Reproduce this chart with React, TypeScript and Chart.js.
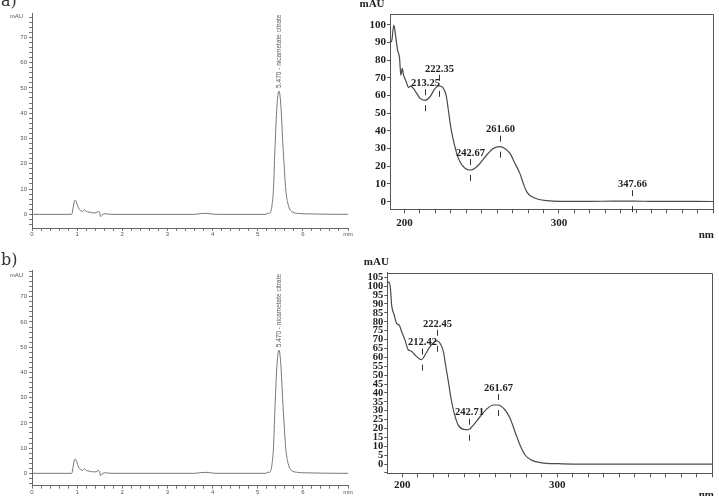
import React, { useEffect, useRef } from "react";
import { Chart, registerables } from "chart.js";
Chart.register(...registerables);

// ---------- data ----------
const chromTimesA = [0, 0.88, 0.91, 0.94, 0.96, 0.99, 1.03, 1.08, 1.12, 1.16, 1.2, 1.26, 1.34, 1.42, 1.46, 1.49, 1.52, 1.55, 1.6, 1.65, 1.75, 3.6, 3.75, 3.85, 3.95, 4.1, 5.18, 5.23, 5.26, 5.29, 5.32, 5.35, 5.38, 5.42, 5.45, 5.47, 5.49, 5.52, 5.55, 5.58, 5.62, 5.66, 5.71, 5.78, 5.88, 6.05, 7.0];
const chromSignalA = [0, 0, 2.5, 5.3, 5.6, 4.5, 2.5, 1.4, 1.2, 1.8, 1.2, 0.9, 0.6, 0.6, 1.1, 1.0, -0.9, -0.3, 0.2, 0.2, 0, 0, 0.3, 0.4, 0.2, 0, 0, 0.5, 0.3, 1.2, 4, 10.5, 25, 41, 47.5, 48.8, 47.5, 41, 30, 21, 10, 5, 2, 0.8, 0.4, 0.2, 0];
const chromTimesB = [0, 0.88, 0.91, 0.94, 0.96, 0.99, 1.03, 1.08, 1.12, 1.16, 1.2, 1.26, 1.34, 1.42, 1.46, 1.49, 1.52, 1.55, 1.6, 1.65, 1.75, 3.6, 3.75, 3.85, 3.95, 4.1, 5.18, 5.23, 5.26, 5.29, 5.32, 5.35, 5.38, 5.42, 5.45, 5.47, 5.49, 5.52, 5.55, 5.58, 5.62, 5.66, 5.71, 5.78, 5.88, 6.05, 7.0];
const chromSignalB = [0, 0, 2.5, 5.4, 5.7, 4.6, 2.5, 1.4, 1.2, 1.8, 1.2, 0.9, 0.6, 0.6, 1.1, 1.0, -0.9, -0.3, 0.2, 0.2, 0, 0, 0.3, 0.4, 0.2, 0, 0, 0.5, 0.3, 1.2, 4, 10.5, 25, 41, 47.5, 48.8, 47.5, 41, 30, 21, 10, 5, 2, 0.8, 0.4, 0.2, 0];
const chromPeakTime = 5.47;
const chromPeakLabel = "5.470 - nicametate citrate";
const chromUnitLabel = "mAU";

const waveA = [190.7, 191.8, 193.1, 194.2, 195.5, 196.8, 197.6, 198.5, 199.4, 201.1, 202.6, 204.1, 205.8, 207.9, 210.1, 213.3, 216.5, 219.8, 222.3, 224.7, 226.9, 228.4, 229.9, 231.6, 233.8, 235.9, 239.2, 242.6, 245.6, 248.9, 253.2, 257.5, 261.6, 265.0, 268.3, 271.5, 274.7, 276.9, 279.1, 282.3, 286.6, 292.0, 300.6, 320, 335, 347.7, 360, 400];
const absA = [89.8, 91.3, 99.8, 94, 85.7, 81, 71.5, 75.3, 71.5, 67.8, 64.6, 65.3, 64, 61.2, 58.4, 57.3, 59.3, 64, 65.5, 64.6, 60.3, 51.8, 42.4, 34.9, 27.3, 22.6, 18.9, 17.9, 18.9, 21.7, 26.4, 30.1, 31.1, 30.1, 27.3, 21.7, 16, 10.4, 5.7, 2.9, 1.4, 0.6, 0.2, 0.2, 0.3, 0.3, 0.2, 0.1];
const peaksA = [213.25, 222.35, 242.67, 261.6, 347.66];

const waveB = [189.9, 191.4, 192.3, 193.1, 194.8, 196.3, 197.9, 199.6, 201.7, 203.9, 205.6, 208.2, 211.4, 212.4, 214.6, 217.9, 221.5, 222.5, 224.3, 226.5, 227.9, 229.7, 231.4, 233.5, 236.1, 239.4, 242.7, 245.8, 250.1, 254.4, 258.7, 261.7, 266.3, 269.5, 272.7, 275.9, 279.2, 283.4, 289.9, 300.6, 310, 400];
const absB = [100.7, 102.5, 98.8, 89.4, 83.8, 79.1, 78.2, 74.4, 69.7, 64.1, 63.6, 61.3, 58.9, 58.7, 61.3, 66, 69.2, 69.3, 67.9, 63.2, 55.7, 46.3, 37, 28.5, 21.9, 19.5, 19.3, 21.9, 26.6, 30.9, 33.2, 33.2, 30.4, 25.7, 18.2, 10.7, 5.1, 2.2, 0.7, 0.2, 0, 0];
const peaksB = [212.42, 222.45, 242.71, 261.67];

const specXLabels = [200, 300];
const specUnitY = "mAU";
const specUnitX = "nm";

// ---------- helpers ----------
const SANS = '"Liberation Sans", Arial, sans-serif';
const SERIF = '"Liberation Serif", "Times New Roman", serif';

function interp(xs: number[], ys: number[], x: number) {
  for (let i = 0; i < xs.length - 1; i++) {
    if (x >= xs[i] && x <= xs[i + 1]) {
      const t = (x - xs[i]) / (xs[i + 1] - xs[i]);
      return ys[i] + t * (ys[i + 1] - ys[i]);
    }
  }
  return ys[ys.length - 1];
}

function chromConfig(times: number[], signal: number[], o: any) {
  const peakMax = Math.max(...signal);
  const annot = {
    id: "chromAnnot",
    afterDraw(chart: any) {
      const { ctx, scales, chartArea } = chart;
      const xs = scales.x, ys = scales.y;
      ctx.save();
      ctx.fillStyle = "#555";
      ctx.font = `6px ${SANS}`;
      ctx.textAlign = "right";
      ctx.textBaseline = "middle";
      ctx.fillText(chromUnitLabel, chartArea.left - 9, ys.getPixelForValue(78.4));
      const px = xs.getPixelForValue(chromPeakTime) + 0.5;
      const py = ys.getPixelForValue(peakMax) - 3;
      ctx.translate(px, py);
      ctx.rotate(-Math.PI / 2);
      ctx.textAlign = "left";
      ctx.font = `6.5px ${SANS}`;
      ctx.fillText(chromPeakLabel, 0, 0);
      ctx.restore();
    },
  };
  return {
    type: "line",
    data: {
      datasets: [
        {
          data: times.map((t, i) => ({ x: t, y: signal[i] })),
          borderColor: "#777",
          borderWidth: 1,
          pointRadius: 0,
          cubicInterpolationMode: "monotone",
          fill: false,
        },
      ],
    },
    options: {
      animation: false,
      responsive: false,
      devicePixelRatio: 1,
      layout: { padding: { left: 6, right: 12, top: o.padTop, bottom: 0 } },
      plugins: { legend: { display: false }, tooltip: { enabled: false } },
      scales: {
        x: {
          type: "linear",
          min: 0,
          max: 7,
          afterFit: (s: any) => { s.height = o.xHeight; },
          border: { display: true, color: "#666", width: 1 },
          grid: { display: true, drawOnChartArea: false, drawTicks: true, tickLength: 3, color: "#777" },
          ticks: {
            stepSize: 0.2,
            maxTicksLimit: 1000,
            autoSkip: false,
            maxRotation: 0,
            includeBounds: false,
            padding: 0,
            color: "#555",
            font: { family: SANS, size: 6 },
            callback: (v: number) => (Math.abs(v - Math.round(v)) < 1e-6 ? (Math.round(v) === 7 ? "min" : String(Math.round(v))) : ""),
          },
        },
        y: {
          type: "linear",
          min: o.yMin,
          max: o.yMax,
          afterFit: (s: any) => { s.width = 26; },
          border: { display: true, color: "#666", width: 1 },
          grid: { display: true, drawOnChartArea: false, drawTicks: true, tickLength: 3, color: "#777" },
          ticks: {
            stepSize: 2,
            maxTicksLimit: 1000,
            autoSkip: false,
            includeBounds: false,
            padding: 2,
            color: "#555",
            font: { family: SANS, size: 6 },
            callback: (v: number) => (v >= 0 && v <= 70 && Math.round(v) % 10 === 0 ? String(Math.round(v)) : ""),
          },
        },
      },
    },
    plugins: [annot],
  };
}

function specConfig(wave: number[], abs: number[], peaks: number[], o: any) {
  const annot = {
    id: "specAnnot",
    afterDraw(chart: any) {
      const { ctx, scales, chartArea } = chart;
      const xs = scales.x, ys = scales.y;
      ctx.save();
      // frame top & right
      ctx.strokeStyle = "#555";
      ctx.lineWidth = 1;
      ctx.beginPath();
      const l = Math.round(chartArea.left) + 0.5, r = Math.round(chartArea.right) + 0.5;
      const t = Math.round(chartArea.top) + 0.5, b = Math.round(chartArea.bottom) + 0.5;
      ctx.moveTo(l, t);
      ctx.lineTo(r, t);
      ctx.lineTo(r, b);
      ctx.stroke();
      // peak labels
      ctx.fillStyle = "#222";
      ctx.strokeStyle = "#333";
      ctx.font = `bold ${o.peakFont}px ${SERIF}`;
      ctx.textAlign = "center";
      ctx.textBaseline = "middle";
      peaks.forEach((w) => {
        const px = Math.round(xs.getPixelForValue(w)) + 0.5;
        const py = ys.getPixelForValue(interp(wave, abs, w));
        ctx.fillText(w.toFixed(2), px, py - 17);
        ctx.beginPath();
        ctx.moveTo(px, py - 11);
        ctx.lineTo(px, py - 5);
        ctx.moveTo(px, py + 5);
        ctx.lineTo(px, py + 11);
        ctx.stroke();
      });
      // units
      ctx.font = `bold 11px ${SERIF}`;
      ctx.fillText(specUnitY, chartArea.left + o.unitY[0], chartArea.top + o.unitY[1]);
      ctx.fillText(specUnitX, chartArea.right + o.unitX[0], chartArea.bottom + o.unitX[1]);
      ctx.restore();
    },
  };
  return {
    type: "line",
    data: {
      datasets: [
        {
          data: wave.map((w, i) => ({ x: w, y: abs[i] })),
          borderColor: "#4a4a4a",
          borderWidth: 1.2,
          pointRadius: 0,
          cubicInterpolationMode: "monotone",
          fill: false,
        },
      ],
    },
    options: {
      animation: false,
      responsive: false,
      devicePixelRatio: 1,
      layout: { padding: { left: o.padLeft, right: o.padRight, top: o.padTop, bottom: 0 } },
      plugins: { legend: { display: false }, tooltip: { enabled: false } },
      scales: {
        x: {
          type: "linear",
          min: o.xMin,
          max: 400,
          afterFit: (s: any) => { s.height = o.xHeight; },
          border: { display: true, color: "#555", width: 1 },
          grid: { display: true, drawOnChartArea: false, drawTicks: true, tickLength: 4, color: "#555" },
          ticks: {
            stepSize: 10,
            maxTicksLimit: 1000,
            autoSkip: false,
            maxRotation: 0,
            includeBounds: false,
            padding: o.xPad,
            color: "#222",
            font: { family: SERIF, size: 11, weight: "bold" },
            callback: (v: number) => (specXLabels.includes(Math.round(v)) ? String(Math.round(v)) : ""),
          },
        },
        y: {
          type: "linear",
          min: o.yMin,
          max: o.yMax,
          afterFit: (s: any) => { s.width = o.yWidth; },
          border: { display: true, color: "#555", width: 1 },
          grid: { display: true, drawOnChartArea: false, drawTicks: true, tickLength: 3, color: "#555" },
          ticks: {
            stepSize: o.yStep,
            maxTicksLimit: 1000,
            autoSkip: false,
            includeBounds: false,
            padding: 1,
            color: "#222",
            font: { family: SERIF, size: o.yFont, weight: "bold" },
            callback: (v: number) => (v < 0 ? "" : String(Math.round(v))),
          },
        },
      },
    },
    plugins: [annot],
  };
}

function ChartBox({ left, top, width, height, build }: any) {
  const ref = useRef<HTMLCanvasElement>(null);
  useEffect(() => {
    const chart = new Chart(ref.current as HTMLCanvasElement, build());
    return () => chart.destroy();
  }, []);
  return (
    <canvas
      ref={ref}
      width={width}
      height={height}
      style={{ position: "absolute", left, top, width, height }}
    />
  );
}

export default function App() {
  return (
    <div style={{ position: "absolute", left: 0, top: 0, width: 719, height: 496, background: "#fff", overflow: "hidden" }}>
      <ChartBox left={0} top={0} width={360} height={245}
        build={() => chromConfig(chromTimesA, chromSignalA, { padTop: 13, xHeight: 17, yMin: -5.4, yMax: 79.6 })} />
      <ChartBox left={0} top={245} width={360} height={251}
        build={() => chromConfig(chromTimesB, chromSignalB, { padTop: 25, xHeight: 10.3, yMin: -4.9, yMax: 80.6 })} />
      <ChartBox left={360} top={0} width={359} height={245}
        build={() => specConfig(waveA, absA, peaksA, {
          padLeft: 2, padRight: 5.7, padTop: 14.3, xHeight: 35.7, yWidth: 28,
          xMin: 190.6, yMin: -4.3, yMax: 105.9, yStep: 10, yFont: 11, xPad: 3, peakFont: 10.5,
          unitY: [-18, -10], unitX: [-7, 26],
        })} />
      <ChartBox left={360} top={245} width={359} height={251}
        build={() => specConfig(waveB, absB, peaksB, {
          padLeft: 2.3, padRight: 6.7, padTop: 27.7, xHeight: 22.7, yWidth: 25,
          xMin: 190.3, yMin: -5.2, yMax: 107.6, yStep: 5, yFont: 10.5, xPad: 1, peakFont: 10.5,
          unitY: [-11, -10.7], unitX: [-6, 22],
        })} />
      <div style={{ position: "absolute", left: 1, top: -7.5, font: '16px "DejaVu Serif", serif', lineHeight: "16px", color: "#333" }}>a)</div>
      <div style={{ position: "absolute", left: 1, top: 251.5, font: '16px "DejaVu Serif", serif', lineHeight: "16px", color: "#333" }}>b)</div>
    </div>
  );
}
